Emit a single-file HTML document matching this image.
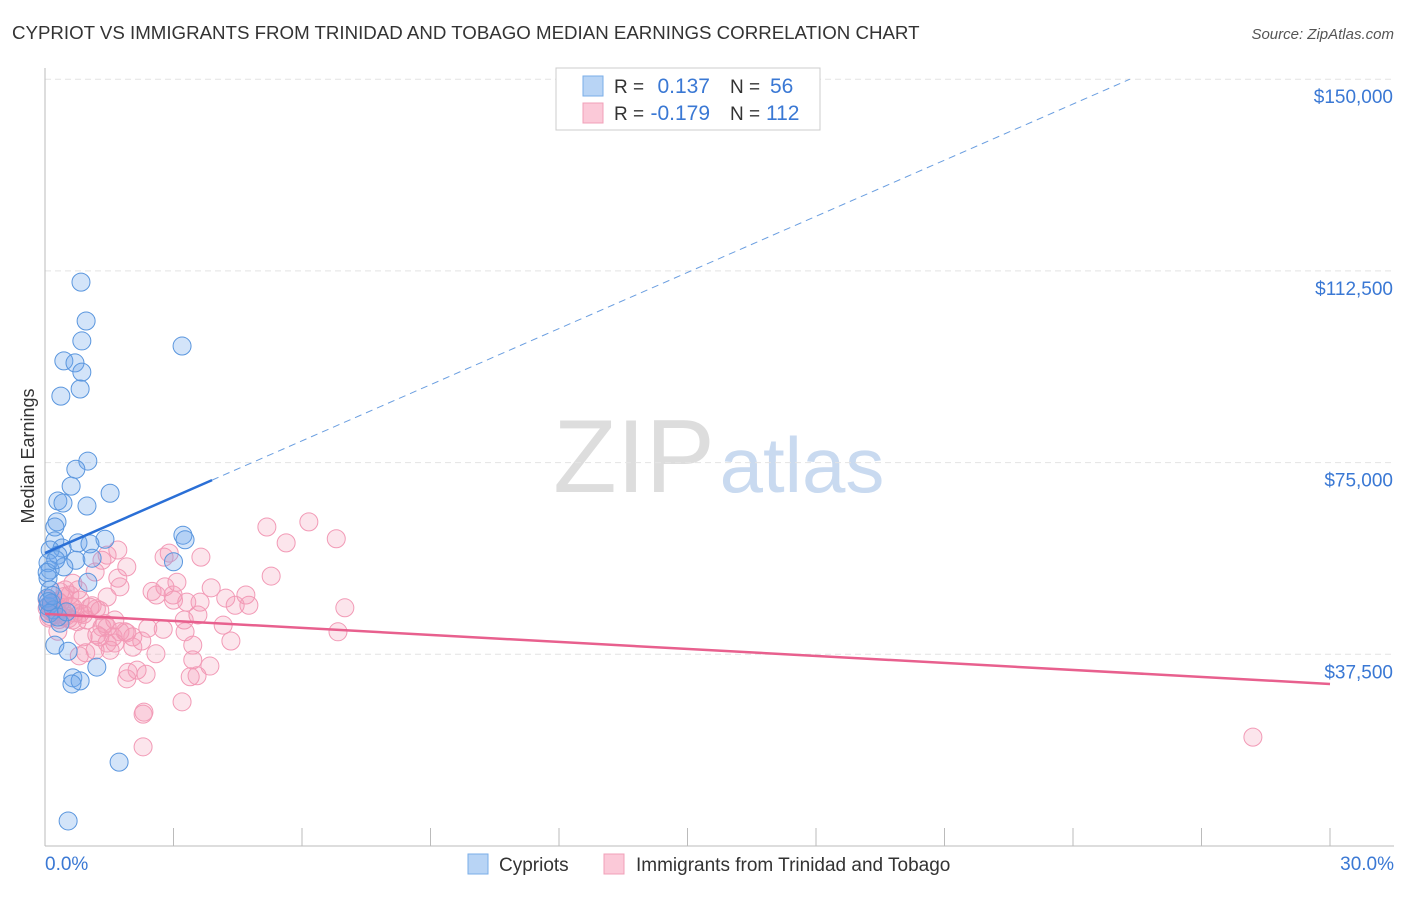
<!DOCTYPE html>
<html><head><meta charset="utf-8"><style>
body{margin:0;background:#fff;font-family:"Liberation Sans",sans-serif}
svg text{font-family:"Liberation Sans",sans-serif}
</style></head><body>
<svg id="chart" width="1406" height="892" xmlns="http://www.w3.org/2000/svg">
<text x="12" y="39" font-size="18.7" fill="#333">CYPRIOT VS IMMIGRANTS FROM TRINIDAD AND TOBAGO MEDIAN EARNINGS CORRELATION CHART</text>
<text x="1394" y="39" font-size="15" fill="#555" text-anchor="end" font-style="italic">Source: ZipAtlas.com</text>
<text transform="translate(34,456) rotate(-90)" font-size="18" fill="#333" text-anchor="middle">Median Earnings</text>
<g>
<text x="634" y="492" font-size="104" fill="#ddd" text-anchor="middle" font-family="Liberation Serif,serif">ZIP</text>
<text x="802" y="492" font-size="78" fill="#c9daf0" text-anchor="middle">atlas</text>
</g>
<g id="grid"></g><g id="axes"></g><g id="pts"></g><g id="lines"></g>
<g>
<rect x="556" y="68" width="264" height="62" fill="#fff" stroke="#ccc"/>
<rect x="583" y="76" width="20" height="20" fill="#b8d4f5" stroke="#7aaee8"/>
<rect x="583" y="103" width="20" height="20" fill="#fbc9d8" stroke="#f0a0b8"/>
<text x="614" y="93" font-size="19" fill="#333">R =</text><text x="710" y="93" font-size="21" fill="#3a78d4" text-anchor="end">0.137</text>
<text x="730" y="93" font-size="19" fill="#333">N =</text><text x="770" y="93" font-size="21" fill="#3a78d4">56</text>
<text x="614" y="120" font-size="19" fill="#333">R =</text><text x="710" y="120" font-size="21" fill="#3a78d4" text-anchor="end">-0.179</text>
<text x="730" y="120" font-size="19" fill="#333">N =</text><text x="766" y="120" font-size="21" fill="#3a78d4">112</text>
</g>
<g>
<rect x="468" y="854" width="20" height="20" fill="#b8d4f5" stroke="#7aaee8"/>
<text x="499" y="871" font-size="19" fill="#333">Cypriots</text>
<rect x="604" y="854" width="20" height="20" fill="#fbc9d8" stroke="#f0a0b8"/>
<text x="636" y="871" font-size="19" fill="#333">Immigrants from Trinidad and Tobago</text>
</g>
</svg>
<script>
const yTicks=[37500,75000,112500,150000];
const yTickLabels=["$37,500","$75,000","$112,500","$150,000"];
const xEndLabels=["0.0%","30.0%"];
const blueX=[0.84,0.96,0.86,3.2,0.44,0.70,0.86,0.82,0.37,1.0,0.72,1.52,0.61,0.30,0.98,0.42,0.28,0.23,3.22,3.27,1.4,0.77,0.23,0.40,0.12,0.30,0.72,3.0,0.07,0.44,0.12,0.07,1.0,0.12,0.07,0.35,0.23,0.54,1.21,0.65,0.82,0.63,1.73,0.54,1.05,1.1,0.05,0.15,0.2,0.1,0.3,0.5,0.05,0.25,0.18,0.08];
const blueY=[110.3,102.7,98.8,97.8,94.9,94.5,92.7,89.4,88.0,75.3,73.7,69.0,70.4,67.5,66.5,67.1,63.4,62.4,60.8,59.9,60.0,59.3,59.7,58.3,57.9,56.9,55.9,55.6,55.4,54.6,54.0,52.4,51.6,50.1,46.9,43.6,39.3,38.1,35.0,32.9,32.3,31.7,16.4,4.9,59.1,56.3,48.5,47.5,46.2,45.5,44.8,45.8,53.5,56.0,49.0,47.8];
const pinkX=[5.18,6.16,5.63,6.8,5.28,7.0,6.84,3.64,2.78,2.9,3.88,4.22,4.69,4.76,4.44,4.16,4.34,3.57,3.62,3.31,3.08,2.8,2.6,2.99,3.25,3.27,3.45,3.45,3.85,3.39,3.55,3.2,2.31,2.59,2.76,2.4,1.94,2.15,2.36,1.91,2.26,2.05,1.87,1.75,1.52,1.63,1.28,1.17,1.33,1.63,1.75,1.91,1.7,1.45,1.33,1.17,1.45,1.7,0.65,0.47,0.82,1.05,0.98,0.65,0.42,0.23,0.12,0.35,0.65,1.28,0.82,0.58,0.77,0.35,1.45,1.91,2.05,1.45,1.21,1.59,0.89,28.2,2.29,2.29,0.09,0.05,0.1,0.15,0.2,0.25,0.3,0.4,0.5,0.55,0.6,0.7,0.75,0.9,0.05,0.12,0.18,0.28,0.33,0.45,1.1,1.4,2.5,3.0,0.95,0.8,1.2,0.3];
const pinkY=[62.4,63.4,59.3,60.1,52.8,46.6,41.9,56.5,56.5,57.3,50.5,48.5,49.1,47.1,47.1,43.2,40.1,45.2,47.7,47.7,51.6,50.7,49.1,49.1,44.2,41.9,39.3,36.4,35.2,33.1,33.3,28.2,26.2,37.6,42.4,42.6,34.0,34.4,33.6,32.7,40.1,40.9,41.9,41.9,38.3,39.7,40.9,38.3,42.8,44.2,50.7,54.6,57.9,56.9,55.9,53.6,48.7,52.4,51.4,50.1,48.1,46.7,44.2,44.2,44.8,47.1,46.1,47.5,46.7,46.1,45.5,49.1,50.1,49.7,42.8,41.7,38.9,39.7,41.3,40.9,40.9,21.3,19.4,25.8,44.6,46.5,47.2,45.8,46.8,45.2,47.9,46.3,45.0,44.5,46.9,45.6,43.9,45.3,48.2,44.9,47.6,46.0,44.3,48.8,47.0,43.5,49.8,48.1,37.8,37.2,46.4,42.0];
const blueTrend=[[0,57.3],[30,167.1]];   // x%, y thousands
const blueSolidEnd=3.9;
const pinkTrend=[[0,45.4],[30,31.7]];
const ns="http://www.w3.org/2000/svg";
const X=v=>45+v/30*1285, Y=v=>846-v/37.5*191.7;
function mk(t,a,p){const e=document.createElementNS(ns,t);for(const k in a)e.setAttribute(k,a[k]);p.appendChild(e);return e;}
const grid=document.getElementById('grid'),axes=document.getElementById('axes');
yTicks.forEach((t,i)=>{const y=Y(t/1000);
const l=mk('line',{x1:45,x2:1394,y1:y,y2:y,stroke:'#e4e4e4','stroke-dasharray':'6,4'},grid);


const tx=mk('text',{x:1393,y:y+24,'font-size':19,fill:'#3a78d4','text-anchor':'end'},axes);tx.textContent=yTickLabels[i];

});
mk('line',{x1:45,x2:45,y1:68,y2:846,stroke:'#bbb'},axes);
mk('line',{x1:45,x2:1394,y1:846,y2:846,stroke:'#bbb'},axes);
for(let i=0;i<=10;i++){const x=X(i*3);const t=mk('line',{x1:x,x2:x,y1:828,y2:846,stroke:'#bbb'},axes);

}
const a0=mk('text',{x:45,y:870,'font-size':19,fill:'#3a78d4'},axes);a0.textContent=xEndLabels[0];


const a1=mk('text',{x:1394,y:870,'font-size':19,fill:'#3a78d4','text-anchor':'end'},axes);a1.textContent=xEndLabels[1];


const pts=document.getElementById('pts');
pinkX.forEach((v,i)=>{const c=mk('circle',{cx:X(v),cy:Y(pinkY[i]),r:9,fill:'rgba(245,150,180,0.25)',stroke:'#f29ab6','stroke-width':1},pts);

});
blueX.forEach((v,i)=>{const c=mk('circle',{cx:X(v),cy:Y(blueY[i]),r:9,fill:'rgba(110,165,235,0.3)',stroke:'#5a96de','stroke-width':1},pts);

});
const L=document.getElementById('lines');
const bY=x=>blueTrend[0][1]+(blueTrend[1][1]-blueTrend[0][1])*x/30;
const ls=mk('line',{x1:X(0),y1:Y(bY(0)),x2:X(blueSolidEnd),y2:Y(bY(blueSolidEnd)),stroke:'#2a6fd6','stroke-width':2.5},L);


const xEnd=(150-blueTrend[0][1])/(blueTrend[1][1]-blueTrend[0][1])*30;
const ld=mk('line',{x1:X(blueSolidEnd),y1:Y(bY(blueSolidEnd)),x2:X(Math.min(xEnd,30)),y2:Y(bY(Math.min(xEnd,30))),stroke:'#6a9ee0','stroke-width':1,'stroke-dasharray':'7,5'},L);


const lp=mk('line',{x1:X(pinkTrend[0][0]),y1:Y(pinkTrend[0][1]),x2:X(pinkTrend[1][0]),y2:Y(pinkTrend[1][1]),stroke:'#e8608e','stroke-width':2.5},L);


</script>
</body></html>
